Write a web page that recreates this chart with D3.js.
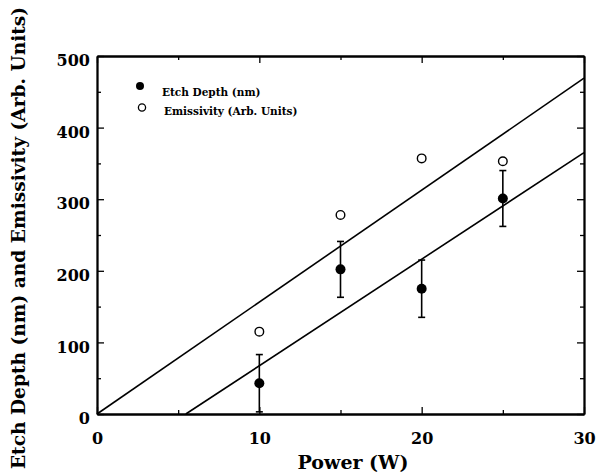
<!DOCTYPE html>
<html>
<head>
<meta charset="utf-8">
<script src="https://cdn.jsdelivr.net/npm/d3@7"></script>
<style>
  body { margin: 0; background: #fff; }
  text { font-family: "DejaVu Serif", serif; font-weight: bold; fill: #000; }
</style>
</head>
<body>
<svg id="chart" width="596" height="476"></svg>
<script>
// Data
const power = [10, 15, 20, 25];
const etchDepth = [43, 202, 175, 301];
const etchError = [40, 39, 40, 39];
const emissivity = [115, 278, 357, 353];

// Straight lines drawn over the points (end points in data units)
const emissivityFit = [[0, 0], [30, 469]];
const etchFit = [[5.47, 0], [30, 365]];

const xMajor = [0, 10, 20, 30];
const xMinor = [5, 15, 25];
const yMajor = [0, 100, 200, 300, 400, 500];
const yMinor = [50, 150, 250, 350, 450];

const margin = { left: 97, right: 12, top: 56, bottom: 62 };
const width = 596, height = 476;

const svg = d3.select('#chart');

const x = d3.scaleLinear().domain([0, 30]).range([margin.left, width - margin.right]);
const y = d3.scaleLinear().domain([0, 500]).range([height - margin.bottom, margin.top]);

// Axes: ticks point inward, labels outside

const bottom = svg.append('g')
  .attr('transform', `translate(0, ${y(0)})`)
  .call(d3.axisBottom(x).tickValues(xMajor).tickSize(-7).tickSizeOuter(0).tickPadding(19));
bottom.selectAll('text').style('font-size', '16px');

svg.append('g')
  .attr('transform', `translate(0, ${y(0)})`)
  .call(d3.axisBottom(x).tickValues(xMinor).tickFormat('').tickSize(-4).tickSizeOuter(0));

const left = svg.append('g')
  .attr('transform', `translate(${x(0)}, 0)`)
  .call(d3.axisLeft(y).tickValues(yMajor).tickSize(-7).tickSizeOuter(0).tickPadding(7));
left.selectAll('text').style('font-size', '16px').attr('dy', '0.6em');

svg.append('g')
  .attr('transform', `translate(${x(0)}, 0)`)
  .call(d3.axisLeft(y).tickValues(yMinor).tickFormat('').tickSize(-4).tickSizeOuter(0));

// mirrored ticks on top and right
svg.append('g')
  .attr('transform', `translate(0, ${y(500)})`)
  .call(d3.axisTop(x).tickValues(xMajor).tickFormat('').tickSize(-7).tickSizeOuter(0));
svg.append('g')
  .attr('transform', `translate(0, ${y(500)})`)
  .call(d3.axisTop(x).tickValues(xMinor).tickFormat('').tickSize(-4).tickSizeOuter(0));
svg.append('g')
  .attr('transform', `translate(${x(30)}, 0)`)
  .call(d3.axisRight(y).tickValues(yMajor).tickFormat('').tickSize(-7).tickSizeOuter(0));
svg.append('g')
  .attr('transform', `translate(${x(30)}, 0)`)
  .call(d3.axisRight(y).tickValues(yMinor).tickFormat('').tickSize(-4).tickSizeOuter(0));

svg.selectAll('.domain').attr('stroke', '#000').attr('stroke-width', 1.8);
svg.selectAll('.tick line').attr('stroke', '#000').attr('stroke-width', 1.3);

// Axis titles

svg.append('text')
  .attr('x', 353)
  .attr('y', 469)
  .attr('text-anchor', 'middle')
  .style('font-size', '19px')
  .text('Power (W)');

svg.append('text')
  .attr('transform', 'translate(25, 238) rotate(-90)')
  .attr('text-anchor', 'middle')
  .style('font-size', '18.6px')
  .text('Etch Depth (nm) and Emissivity (Arb. Units)');

// Fitted lines

const line = d3.line().x(d => x(d[0])).y(d => y(d[1]));

svg.selectAll('path.fit')
  .data([emissivityFit, etchFit])
  .join('path')
  .attr('class', 'fit')
  .attr('d', line)
  .attr('fill', 'none')
  .attr('stroke', '#000')
  .attr('stroke-width', 1.6);

// Error bars

const capHalf = 3.5;
const bars = svg.append('g').attr('stroke', '#000').attr('stroke-width', 1.6);
power.forEach((p, i) => {
  const lo = etchDepth[i] - etchError[i];
  const hi = etchDepth[i] + etchError[i];
  bars.append('line').attr('x1', x(p)).attr('x2', x(p)).attr('y1', y(lo)).attr('y2', y(hi));
  bars.append('line').attr('x1', x(p) - capHalf).attr('x2', x(p) + capHalf).attr('y1', y(lo)).attr('y2', y(lo));
  bars.append('line').attr('x1', x(p) - capHalf).attr('x2', x(p) + capHalf).attr('y1', y(hi)).attr('y2', y(hi));
});

// Points

svg.append('g').selectAll('circle')
  .data(power)
  .join('circle')
  .attr('cx', d => x(d))
  .attr('cy', (d, i) => y(etchDepth[i]))
  .attr('r', 5)
  .attr('fill', '#000');

svg.append('g').selectAll('circle')
  .data(power)
  .join('circle')
  .attr('cx', d => x(d))
  .attr('cy', (d, i) => y(emissivity[i]))
  .attr('r', 4.3)
  .attr('fill', '#fff')
  .attr('stroke', '#000')
  .attr('stroke-width', 1.4);

// Legend

const legend = svg.append('g');
legend.append('circle').attr('cx', 140).attr('cy', 86).attr('r', 4).attr('fill', '#000');
legend.append('text').attr('x', 162).attr('y', 96).style('font-size', '10.5px').text('Etch Depth (nm)');
legend.append('circle').attr('cx', 142).attr('cy', 107.5).attr('r', 3.6)
  .attr('fill', '#fff').attr('stroke', '#000').attr('stroke-width', 1.3);
legend.append('text').attr('x', 164).attr('y', 114.5).style('font-size', '10.5px').text('Emissivity (Arb. Units)');
</script>
</body>
</html>
